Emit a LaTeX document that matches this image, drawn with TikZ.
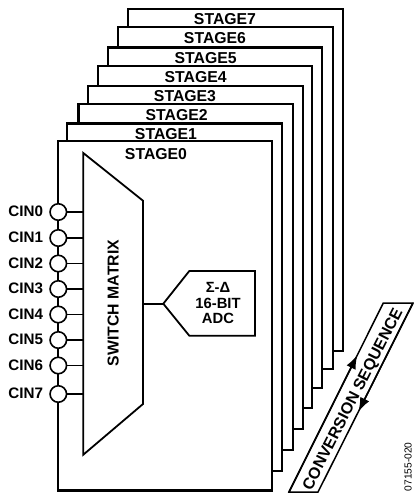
\documentclass[tikz,border=0pt]{standalone}
\usepackage{fontspec}
\setmainfont{Liberation Sans}
\usetikzlibrary{arrows.meta,calc}
\tikzset{
  box/.style={draw=black,fill=white,line width=2.2pt,miter limit=10},
  lbl/.style={inner sep=0pt,outer sep=0pt,font=\fontsize{15.8}{17}\selectfont\bfseries,text height=10.7pt,text depth=0pt},
  lblc/.style={lbl,font=\fontsize{15.2}{17}\selectfont\bfseries},
  lblb/.style={lbl,font=\fontsize{14.8}{17}\selectfont\bfseries},
  pin/.style={circle,draw=black,fill=white,line width=1.6pt,minimum size=16.5pt,inner sep=0pt,outer sep=0pt},
  stub/.style={draw=black,line width=1.4pt},
  thick line/.style={draw=black,line width=1.8pt},
  seqtip/.style={-{Latex[length=14pt,width=10pt]},draw=black,line width=1.6pt}
}
\begin{document}
\begin{tikzpicture}[x=1pt,y=-1pt]
\useasboundingbox (0,0) rectangle (413,493);
% stacked stages, back to front
\foreach \n/\l/\t/\r/\b/\cx/\cy in {
  7/128/9/342.7/350.7/225/19,
  6/118/27/332.7/369/215/38,
  5/107.7/47.5/322/388/205.7/58,
  4/97.7/66/312/408/195.7/77,
  3/88/85.7/302.7/429/185/95.7,
  2/78.5/104/293/450/176.7/115,
  1/67/123.5/281.7/471/166/133.7}{
  \draw[box] (\l,\t) rectangle (\r,\b);
  \node[lbl] (stage\n) at (\cx,\cy) {STAGE\n};
}
\draw[box] (58,141) rectangle (271.7,490.5);
\node[lbl] (stage0) at (156,153.7) {STAGE0};
% switch matrix
\draw[thick line] (83.3,153) -- (143,200.7) -- (143,404) -- (83.3,454.7) -- cycle;
\node[lbl,rotate=90] (sw) at (113.3,303) {SWITCH MATRIX};
% ADC
\draw[thick line] (163.3,303.7) -- (189.3,271) -- (255,271) -- (255,335.7) -- (189.3,335.7) -- cycle;
\coordinate (adctip) at (163.3,303.7);
\coordinate (muxout) at (143,303.7);
\draw[thick line] (muxout) -- (adctip);
\node[lblb] (sd) at (218,286.7) {Σ-Δ};
\node[lblb] (bit) at (218,302.7) {16-BIT};
\node[lblb] (adc) at (218,318.3) {ADC};
% pins
\foreach \i/\y in {0/212,1/238,2/263.5,3/289,4/314.5,5/340,6/365.5,7/394}{
  \coordinate (mx\i) at (83.3,\y);
  \node[pin] (p\i) at (58.3,\y) {};
  \draw[stub] (p\i.east) -- (mx\i);
  \node[lblc,anchor=west] (c\i) at (8.5,\y-0.5) {CIN\i};
}
% conversion sequence
\coordinate (a) at (289,492);
\coordinate (b) at (383.3,303);
\coordinate (c) at (413,303);
\coordinate (d) at (318,492);
\draw[draw=black,line width=1.5pt] (a) -- (b) -- (c) -- (d) -- cycle;
\coordinate (uptip) at ($(a)!0.725!(b)$);
\coordinate (dntip) at ($(d)!0.425!(c)$);
\draw[seqtip] (a) -- (uptip);
\draw[seqtip] (c) -- (dntip);
\node[lbl,rotate=63,font=\fontsize{16}{17}\selectfont\bfseries] (seq) at (352.3,399) {CONVERSION SEQUENCE};
\node[inner sep=0pt,rotate=90,anchor=west,font=\fontsize{10.2}{11}\selectfont] (code) at (408,491.5) {07155-020};
\end{tikzpicture}
\end{document}
